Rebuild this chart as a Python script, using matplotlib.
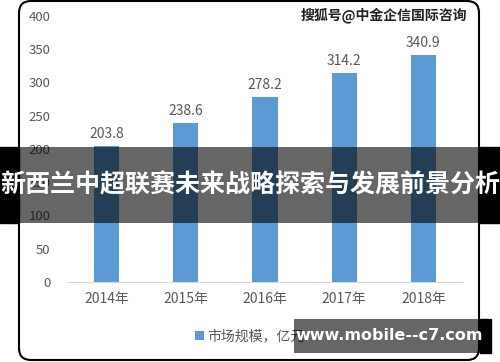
import matplotlib
matplotlib.use("Agg")
import matplotlib.pyplot as plt
from matplotlib.patches import FancyBboxPatch, Rectangle
import numpy as np

# ---------------------------------------------------------------------------
# Data
# ---------------------------------------------------------------------------

YEARS = ["2014年", "2015年", "2016年", "2017年", "2018年"]
MARKET_SIZE = [203.8, 238.6, 278.2, 314.2, 340.9]
SERIES_NAME = "市场规模，亿元"
TITLE = "新西兰中超联赛未来战略探索与发展前景分析"
SOURCE = "搜狐号@中金企信国际咨询"
SITE = "www.mobile--c7.com"

plt.rcParams["font.family"] = ["Noto Sans CJK SC", "DejaVu Sans"]

BAR_COLOR = "#5B9BD5"
TEXT_GRAY = "#595959"

# ---------------------------------------------------------------------------
# Plot
# ---------------------------------------------------------------------------

fig = plt.figure(figsize=(5.0, 3.62), dpi=100)
ax = fig.add_axes([0.134, 0.221, 0.792, 0.735])

x = np.arange(len(YEARS))
bars = ax.bar(x, MARKET_SIZE, width=0.32, color=BAR_COLOR, label=SERIES_NAME, zorder=2)
for b, v in zip(bars, MARKET_SIZE):
    ax.text(b.get_x() + b.get_width() / 2, v + 8, f"{v:.1f}",
            ha="center", va="bottom", fontsize=10, color=TEXT_GRAY)

ax.set_xlim(-0.5, len(YEARS) - 0.5)
ax.set_ylim(0, 400)
ax.set_yticks(np.arange(0, 401, 50))
ax.set_xticks(x)
ax.set_xticklabels(YEARS)
ax.tick_params(axis="both", length=0, colors=TEXT_GRAY)
ax.tick_params(axis="y", pad=12, labelsize=9.5)
ax.tick_params(axis="x", pad=7, labelsize=10)
for side in ["top", "right", "left"]:
    ax.spines[side].set_visible(False)
ax.spines["bottom"].set_color("#D9D9D9")

# legend below the axis
fig.legend(handles=[bars], labels=[SERIES_NAME], loc="center", bbox_to_anchor=(0.5, 0.07),
           frameon=False, fontsize=10, labelcolor=TEXT_GRAY, handlelength=0.6,
           handleheight=0.6, handletextpad=0.3)

# source text top right
fig.text(0.934, 0.958, SOURCE, ha="right", va="center", fontsize=10,
         fontweight="bold", color="#222222")

# rounded chart border (inches)
tr = fig.dpi_scale_trans
border = FancyBboxPatch((0.19, 0.02), 4.60, 3.59, boxstyle="round,pad=0,rounding_size=0.12",
                        transform=tr, fill=False, edgecolor="black", linewidth=1.5)
fig.add_artist(border)

# title band overlay
fig.add_artist(Rectangle((0, 1.39), 0.19, 0.76, transform=tr, color="black", zorder=10))
fig.add_artist(Rectangle((0.19, 1.39), 4.60, 0.76, transform=tr, color="black", alpha=0.6,
                         linewidth=0, zorder=10))
fig.add_artist(Rectangle((4.79, 1.39), 0.21, 0.76, transform=tr, color="black", zorder=10))
fig.text(0.5, 1.0 - 185 / 362, TITLE, ha="center", va="center", fontsize=18,
         fontweight="bold", color="white", zorder=11)

# bottom site watermark
fig.add_artist(Rectangle((2.94, 0.09), 1.86, 0.34, transform=tr, color="black", alpha=0.6,
                         linewidth=0, zorder=10))
fig.add_artist(Rectangle((4.80, 0.09), 0.11, 0.34, transform=tr, color="black", zorder=10))
fig.text(3.89 / 5.0, 0.26 / 3.62, SITE, ha="center", va="center", fontsize=11.5,
         fontweight="bold", color="white", family=["DejaVu Sans"], zorder=11)

fig.savefig("out.png", dpi=100)
